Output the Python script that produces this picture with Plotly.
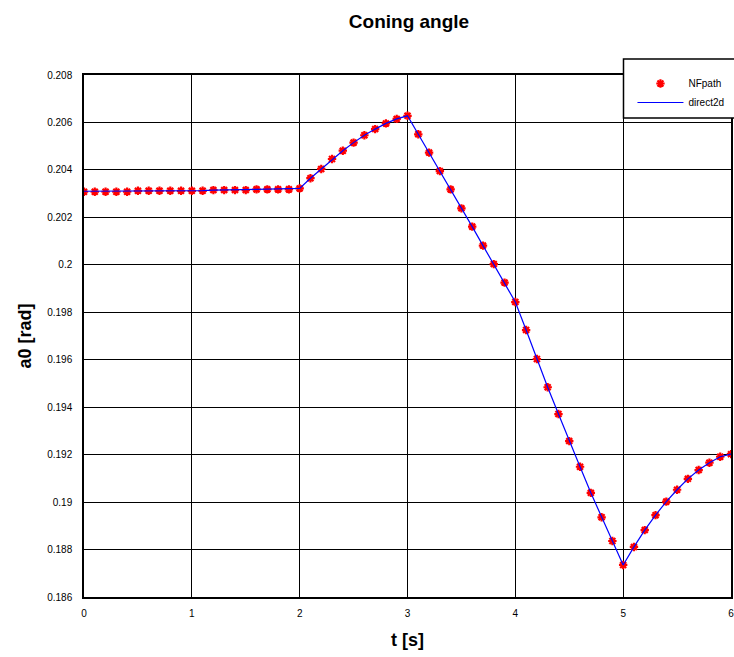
import plotly.graph_objects as go

# time samples [s]
t = [round(0.1 * i, 1) for i in range(61)]

# coning angle a0 [rad], NFpath solution (sampled every 0.1 s)
nfpath = [
    0.20308, 0.20308, 0.20308, 0.20308, 0.20308, 0.20312, 0.20312, 0.20312, 0.20312, 0.20312,
    0.20312, 0.20312, 0.20315, 0.20315, 0.20315, 0.20315, 0.20318, 0.20318, 0.20318, 0.20318,
    0.20322, 0.20365, 0.20404, 0.20446, 0.20481, 0.20515, 0.20546, 0.20572, 0.20596, 0.20615,
    0.20628, 0.20550, 0.20473, 0.20395, 0.20318, 0.20238, 0.20161, 0.20081, 0.20003, 0.19925,
    0.19843, 0.19725, 0.19603, 0.19484, 0.19371, 0.19257, 0.19149, 0.19039, 0.18936, 0.18836,
    0.18735, 0.18811, 0.18882, 0.18945, 0.19002, 0.19052, 0.19098, 0.19135, 0.19166, 0.19191,
    0.19202,
]

# coning angle a0 [rad], direct2d solution
direct2d = [
    0.20310, 0.20310, 0.20310, 0.20311, 0.20311, 0.20312, 0.20312, 0.20312, 0.20313, 0.20313,
    0.20313, 0.20313, 0.20315, 0.20315, 0.20316, 0.20316, 0.20318, 0.20319, 0.20319, 0.20320,
    0.20322, 0.20365, 0.20404, 0.20446, 0.20481, 0.20515, 0.20546, 0.20572, 0.20596, 0.20615,
    0.20628, 0.20550, 0.20473, 0.20395, 0.20318, 0.20238, 0.20161, 0.20081, 0.20003, 0.19925,
    0.19843, 0.19725, 0.19603, 0.19484, 0.19371, 0.19257, 0.19149, 0.19039, 0.18936, 0.18836,
    0.18735, 0.18811, 0.18882, 0.18945, 0.19002, 0.19052, 0.19098, 0.19135, 0.19166, 0.19191,
    0.19202,
]

x_ticks = [0, 1, 2, 3, 4, 5, 6]
y_ticks = [0.186, 0.188, 0.19, 0.192, 0.194, 0.196, 0.198, 0.2, 0.202, 0.204, 0.206, 0.208]
y_tick_text = ["0.186", "0.188", "0.19", "0.192", "0.194", "0.196", "0.198", "0.2",
               "0.202", "0.204", "0.206", "0.208"]

FONT = "Liberation Sans, Arial, sans-serif"

# plot-area geometry in pixels (used to place the legend frame)
W, H = 734, 657
ML, MR, MT, MB = 84, 0, 75, 60
PW, PH = W - ML - MR, H - MT - MB


def px_to_paper_x(px):
    return (px - ML) / PW


def px_to_paper_y(py):
    return (H - MB - py) / PH


fig = go.Figure()
fig.add_trace(go.Scatter(
    x=t, y=nfpath, name="NFpath", mode="markers",
    marker=dict(symbol="asterisk-open", size=7, color="red",
                line=dict(color="red", width=2.2)),
))
fig.add_trace(go.Scatter(
    x=t, y=direct2d, name="direct2d", mode="lines",
    line=dict(color="blue", width=1.2),
))

axis_common = dict(
    showgrid=True, gridcolor="black", gridwidth=1,
    showline=True, linecolor="black", linewidth=1.5, mirror=True,
    zeroline=False, ticks="", tickfont=dict(family=FONT, size=10, color="black"),
)

fig.update_xaxes(
    range=[0, 6], tickvals=x_ticks, ticktext=[str(v) for v in x_ticks],
    ticklabelstandoff=6, ticklabeloverflow="allow",
    title=dict(text="<b>t [s]</b>", font=dict(family=FONT, size=18, color="black"), standoff=16),
    **axis_common,
)
fig.update_yaxes(
    range=[0.186, 0.208], tickvals=y_ticks, ticktext=y_tick_text,
    ticklabelstandoff=8,
    title=dict(text="<b>a0 [rad]</b>", font=dict(family=FONT, size=18, color="black"), standoff=11),
    **axis_common,
)

# legend frame, running off the right edge of the page
fig.add_shape(
    type="rect", xref="paper", yref="paper", layer="above",
    x0=px_to_paper_x(626), x1=px_to_paper_x(760),
    y0=px_to_paper_y(118), y1=px_to_paper_y(59),
    line=dict(color="black", width=1.5), fillcolor="white",
)

fig.update_layout(
    width=W, height=H,
    margin=dict(l=ML, r=MR, t=MT, b=MB),
    paper_bgcolor="white", plot_bgcolor="white",
    title=dict(text="<b>Coning angle</b>", x=(ML + W) / 2 / W, xanchor="center",
               y=1 - 21 / H, yanchor="middle",
               font=dict(family=FONT, size=19, color="black")),
    showlegend=True,
    legend=dict(
        x=px_to_paper_x(635), y=px_to_paper_y(69), xanchor="left", yanchor="top",
        bgcolor="rgba(0,0,0,0)", borderwidth=0,
        font=dict(family=FONT, size=10, color="black"),
        itemwidth=46, tracegroupgap=0,
    ),
)

fig.write_html("out.html")
